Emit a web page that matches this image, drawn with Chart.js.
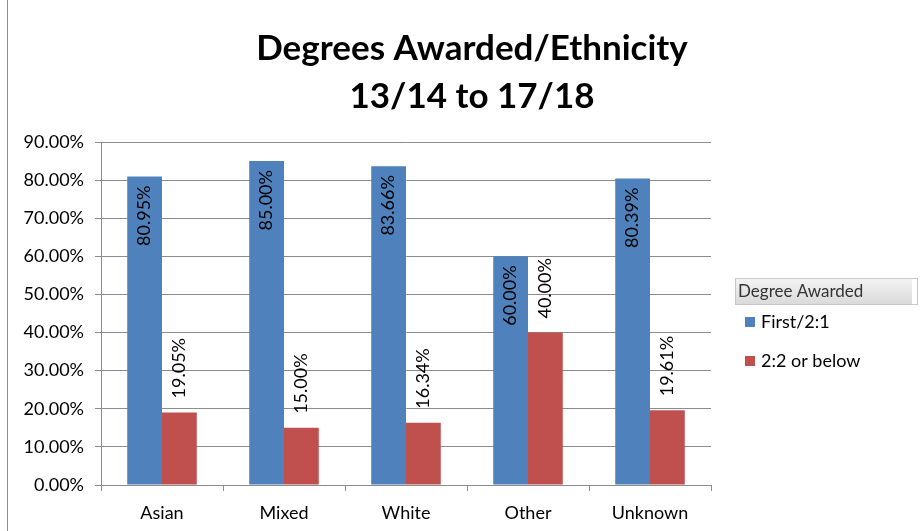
<!DOCTYPE html>
<html>
<head>
<meta charset="utf-8">
<script src="https://cdn.jsdelivr.net/npm/chart.js@4/dist/chart.umd.min.js"></script>
<style>
  html, body { margin: 0; padding: 0; background: #fff; }
  #wrap { position: relative; width: 920px; height: 531px; }
  #wrap:before { content: ''; position: absolute; left: 7px; top: 0; bottom: 0; border-left: 1px solid #8c8c8c; }
</style>
</head>
<body>
<div id="wrap"><canvas id="degreeChart" width="920" height="531"></canvas></div>
<script>
// data
var ethnicities = ['Asian', 'Mixed', 'White', 'Other', 'Unknown'];
var firstUpper = [80.95, 85.00, 83.66, 60.00, 80.39];
var lowerSecond = [19.05, 15.00, 16.34, 40.00, 19.61];
var seriesNames = ['First/2:1', '2:2 or below'];
var titleLines = ['Degrees Awarded/Ethnicity', '13/14 to 17/18'];
var legendTitle = 'Degree Awarded';

var blue = '#4F81BD';
var red = '#C0504D';
var fontFamily = 'Lato, "Open Sans", sans-serif';

// title, legend box and the rotated value labels
var extras = {
    id: 'extras',
    afterDraw: function(chart) {
        var ctx = chart.ctx;
        ctx.save();

        // title
        ctx.fillStyle = '#000';
        ctx.font = 'bold 35px ' + fontFamily;
        ctx.textAlign = 'center';
        ctx.textBaseline = 'middle';
        ctx.fillText(titleLines[0], 472, 49);
        ctx.fillText(titleLines[1], 472, 97);

        // value labels
        ctx.font = '18px ' + fontFamily;
        chart.data.datasets.forEach(function(ds, i) {
            var meta = chart.getDatasetMeta(i);
            meta.data.forEach(function(bar, j) {
                var txt = ds.data[j].toFixed(2) + '%';
                ctx.save();
                ctx.translate(bar.x, bar.y);
                ctx.rotate(-Math.PI / 2);
                ctx.textBaseline = 'middle';
                if (i === 0) {
                    ctx.textAlign = 'right';
                    ctx.fillText(txt, -9, 0);
                } else {
                    ctx.textAlign = 'left';
                    ctx.fillText(txt, 14, 0);
                }
                ctx.restore();
            });
        });

        // legend header box
        var g = ctx.createLinearGradient(0, 278, 0, 305);
        g.addColorStop(0, '#f4f4f4');
        g.addColorStop(1, '#d9d9d9');
        ctx.fillStyle = g;
        ctx.fillRect(735, 278, 180, 27);
        ctx.fillStyle = '#fff';
        ctx.fillRect(912, 278, 6, 27);
        ctx.strokeStyle = '#c8c8c8';
        ctx.lineWidth = 1;
        ctx.strokeRect(735.5, 278.5, 182, 26);
        ctx.fillStyle = '#333';
        ctx.font = '17px ' + fontFamily;
        ctx.textAlign = 'left';
        ctx.textBaseline = 'middle';
        ctx.fillText(legendTitle, 738, 292);

        // legend items
        var colors = [blue, red];
        var ys = [322, 361];
        seriesNames.forEach(function(name, k) {
            ctx.fillStyle = colors[k];
            ctx.fillRect(745, ys[k] - 5, 10, 10);
            ctx.fillStyle = '#000';
            ctx.font = '18px ' + fontFamily;
            ctx.fillText(name, 761, ys[k]);
        });

        ctx.restore();
    }
};

var ctx = document.getElementById('degreeChart').getContext('2d');
var degreeChart = new Chart(ctx, {
    type: 'bar',
    data: {
        labels: ethnicities,
        datasets: [{
            label: seriesNames[0],
            data: firstUpper,
            backgroundColor: blue,
            categoryPercentage: 0.57,
            barPercentage: 1.0
        }, {
            label: seriesNames[1],
            data: lowerSecond,
            backgroundColor: red,
            categoryPercentage: 0.57,
            barPercentage: 1.0
        }]
    },
    options: {
        responsive: false,
        animation: false,
        layout: {
            padding: { left: 0, top: 142, right: 209, bottom: 0 }
        },
        scales: {
            x: {
                grid: {
                    drawOnChartArea: false,
                    drawTicks: true,
                    tickLength: 6,
                    color: '#8c8c8c'
                },
                border: { color: '#8c8c8c' },
                ticks: {
                    color: '#000',
                    font: { family: fontFamily, size: 18 },
                    padding: 11
                },
                afterFit: function(scale) { scale.height = 46; }
            },
            y: {
                min: 0,
                max: 90,
                grid: {
                    color: '#8c8c8c',
                    tickLength: 6
                },
                border: { color: '#8c8c8c' },
                ticks: {
                    stepSize: 10,
                    color: '#000',
                    font: { family: fontFamily, size: 18 },
                    padding: 11,
                    callback: function(v) { return v.toFixed(2) + '%'; }
                },
                afterFit: function(scale) { scale.width = 101; }
            }
        },
        plugins: {
            legend: { display: false },
            tooltip: { enabled: false }
        }
    },
    plugins: [extras]
});
</script>
</body>
</html>
